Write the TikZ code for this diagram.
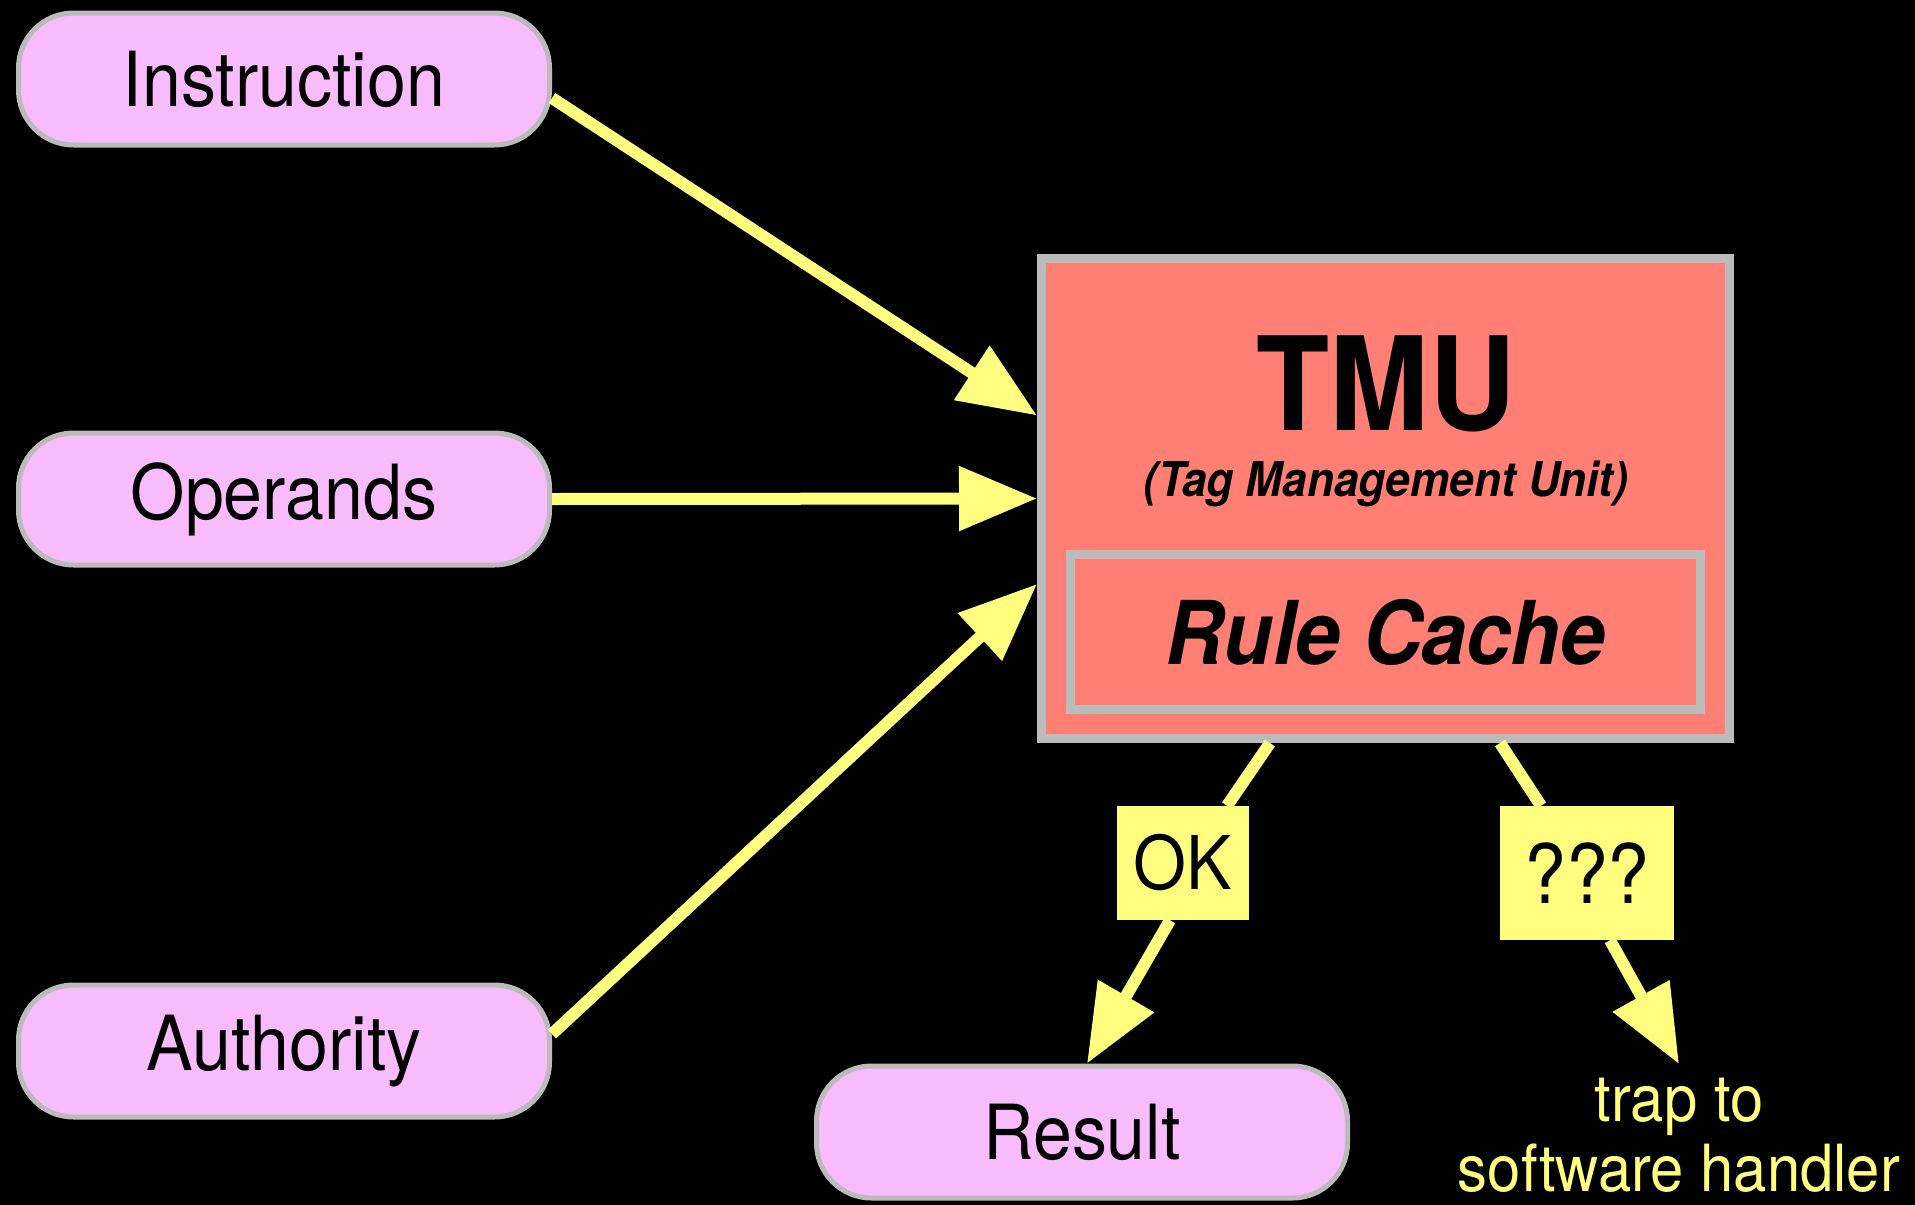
\documentclass[tikz,border=0pt]{standalone}
\usepackage{fontspec}
\setmainfont{TeX Gyre Heros}[FakeStretch=0.92]
\usetikzlibrary{arrows.meta}
\definecolor{pinkfill}{HTML}{F8BBFB}
\definecolor{salmon}{HTML}{FF7F74}
\definecolor{arrowyellow}{HTML}{FFFF7F}
\definecolor{bordergray}{HTML}{BBBBBB}
\begin{document}
\begin{tikzpicture}[x=1pt,y=-1pt,
  pill/.style={draw=bordergray, line width=5pt, fill=pinkfill, rounded corners=55pt,
    minimum width=531pt, minimum height=132pt, inner sep=0pt,
    font=\fontsize{76}{80}\selectfont, text=black},
  arr/.style={draw=arrowyellow, line width=12pt, -{Triangle[length=78pt,width=62pt]}},
  seg/.style={draw=arrowyellow, line width=12pt},
  tagbox/.style={fill=arrowyellow, inner sep=0pt, text=black},
  unitbox/.style={draw=bordergray, line width=9pt, fill=salmon, inner sep=0pt}
]
\useasboundingbox (0,0) rectangle (1915,1205);
\fill[black] (0,0) rectangle (1915,1205);

% input pills
\node[pill] (instr) at (284,79) {Instruction};
\node[pill] (ops) at (284,499) {Operands};
\node[pill] (auth) at (284,1051) {Authority};
\node[pill] (result) at (1082,1132) {Result};

% TMU
\node[unitbox, minimum width=688pt, minimum height=480pt] (tmu) at (1385.5,498.5) {};
\node[font=\fontsize{130}{132}\selectfont\bfseries, text=black] (tmutitle) at (1386,384) {TMU};
\node[font=\fontsize{48}{50}\selectfont\bfseries\itshape, text=black] (tmusub) at (1386,484) {(Tag Management Unit)};
\node[unitbox, minimum width=630pt, minimum height=155pt,
  font=\fontsize{88}{90}\selectfont\bfseries\itshape, text=black] (cache) at (1385.5,632) {Rule Cache};

% outcome labels
\node[tagbox, minimum width=132pt, minimum height=114pt, font=\fontsize{74}{76}\selectfont] (ok) at (1183,863) {OK};
\node[tagbox, minimum width=174pt, minimum height=134pt, font=\fontsize{82}{84}\selectfont] (unk) at (1587,873) {???};
\node[anchor=north, align=center, inner sep=0pt, text=arrowyellow,
  font=\fontsize{65}{70}\selectfont] (trap) at (1679,1078) {trap to\\software handler};
\coordinate (trapin) at (1679,1064);

% connectors
\draw[arr] ([yshift=-19pt]instr.east) -- ([yshift=83pt]tmu.west);
\draw[arr] (ops.east) -- (tmu.west);
\draw[arr] ([yshift=17pt]auth.east) -- ([yshift=-85.5pt]tmu.west);

\draw[seg] ([xshift=-115.5pt]tmu.south) -- ([xshift=44pt]ok.north);
\draw[arr] ([xshift=-13pt]ok.south) -- ([xshift=5pt]result.north);
\draw[seg] ([xshift=114.5pt]tmu.south) -- ([xshift=-46pt]unk.north);
\draw[arr] ([xshift=23pt]unk.south) -- (trapin);
\end{tikzpicture}
\end{document}
